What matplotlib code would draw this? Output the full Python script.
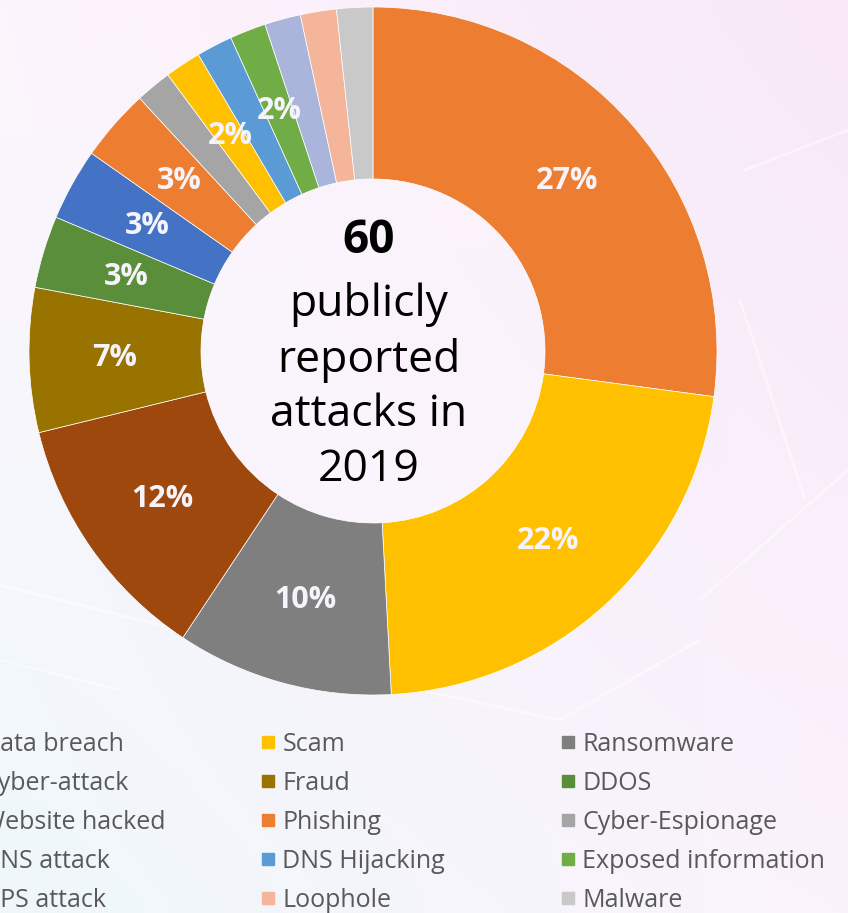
import numpy as np
import matplotlib as mpl
mpl.use('Agg')
import matplotlib.pyplot as plt
from matplotlib.lines import Line2D
from matplotlib.patches import Circle

# attack types, in legend (row-major) order == clockwise slice order
categories = ['Data breach', 'Scam', 'Ransomware',
              'Cyber-attack', 'Fraud', 'DDOS',
              'Website hacked', 'Phishing', 'Cyber-Espionage',
              'DNS attack', 'DNS Hijacking', 'Exposed information',
              'GPS attack', 'Loophole', 'Malware']
counts = [16, 13, 6, 7, 4, 2, 2, 2, 1, 1, 1, 1, 1, 1, 1]
colors = ['#ED7D31', '#FFC000', '#7F7F7F',
          '#9E480E', '#997300', '#5B8E3B',
          '#4472C4', '#ED7D31', '#A5A5A5',
          '#FFC000', '#5B9BD5', '#70AD47',
          '#A9B5DB', '#F4B59B', '#C9C9C9']
# Excel hid the overlapping small labels
show_label = [True] * 8 + [False, True, False, True, False, False, False]

total_text = '60'
center_text = 'publicly\nreported\nattacks in\n2019'

W, H = 848, 913
fig = plt.figure(figsize=(W / 100, H / 100), dpi=100)
ax = fig.add_axes([0, 0, 1, 1])

# soft slide background
gy, gx = np.mgrid[0:1:60j, 0:1:60j]
tl = np.array([253, 245, 253]) / 255
tr = np.array([248, 232, 248]) / 255
bl = np.array([239, 248, 251]) / 255
br = np.array([251, 243, 252]) / 255
bg = ((1 - gx)[..., None] * (1 - gy)[..., None] * tl + gx[..., None] * (1 - gy)[..., None] * tr
      + (1 - gx)[..., None] * gy[..., None] * bl + gx[..., None] * gy[..., None] * br)
ax.imshow(bg, extent=(0, W, 0, H), origin='upper', interpolation='bicubic', zorder=0)
# faint white "network" lines (pixel coords, y from top)
for x0, y0, x1, y1 in [(740, 300, 805, 500), (700, 600, 848, 470), (745, 170, 848, 130),
                       (0, 585, 180, 630), (0, 660, 120, 690), (420, 690, 560, 720),
                       (560, 720, 700, 640)]:
    ax.plot([x0, x1], [H - y0, H - y1], color='white', lw=2, alpha=0.45, zorder=1)

cx, cy = 373, H - 351
wedges, texts, autotexts = ax.pie(
    counts, colors=colors, startangle=90, counterclock=False,
    center=(cx, cy), radius=344,
    wedgeprops=dict(width=172, edgecolor='white', linewidth=0.5),
    autopct=lambda p: '{:.0f}%'.format(p), pctdistance=0.75,
    textprops=dict(color='#F7F3FB', fontsize=22, fontweight='bold', family='Open Sans'))
for t, show in zip(autotexts, show_label):
    t.set_visible(show)
    t.set_zorder(5)

hole = Circle((cx, cy), 172, facecolor='#FFF8FF', alpha=0.4, edgecolor='none', zorder=2)
ax.add_patch(hole)

ax.text(369, H - 240, total_text, ha='center', va='center', fontsize=33,
        fontweight='bold', family='Open Sans', color='black', zorder=6)
ax.text(369, H - 387, center_text, ha='center', va='center', fontsize=32,
        family='Open Sans', color='black', linespacing=1.3, zorder=6)

ax.set_xlim(0, W)
ax.set_ylim(0, H)
ax.set_aspect('auto')
ax.axis('off')

# legend: three single columns, first one runs off the left edge
col_x = [-40, 260, 560]
for c in range(3):
    idx = list(range(c, len(categories), 3))
    handles = [Line2D([], [], marker='s', linestyle='', markersize=9,
                      color=colors[i]) for i in idx]
    fig.legend(handles, [categories[i] for i in idx], loc='upper left',
               bbox_to_anchor=(col_x[c] / W, 1 - 732 / H), frameon=False,
               borderpad=0, borderaxespad=0, handlelength=0.6, handletextpad=0.3,
               labelspacing=0.56, labelcolor='#595959',
               prop=dict(family='Open Sans', size=18))

fig.savefig('out.png', dpi=100)
